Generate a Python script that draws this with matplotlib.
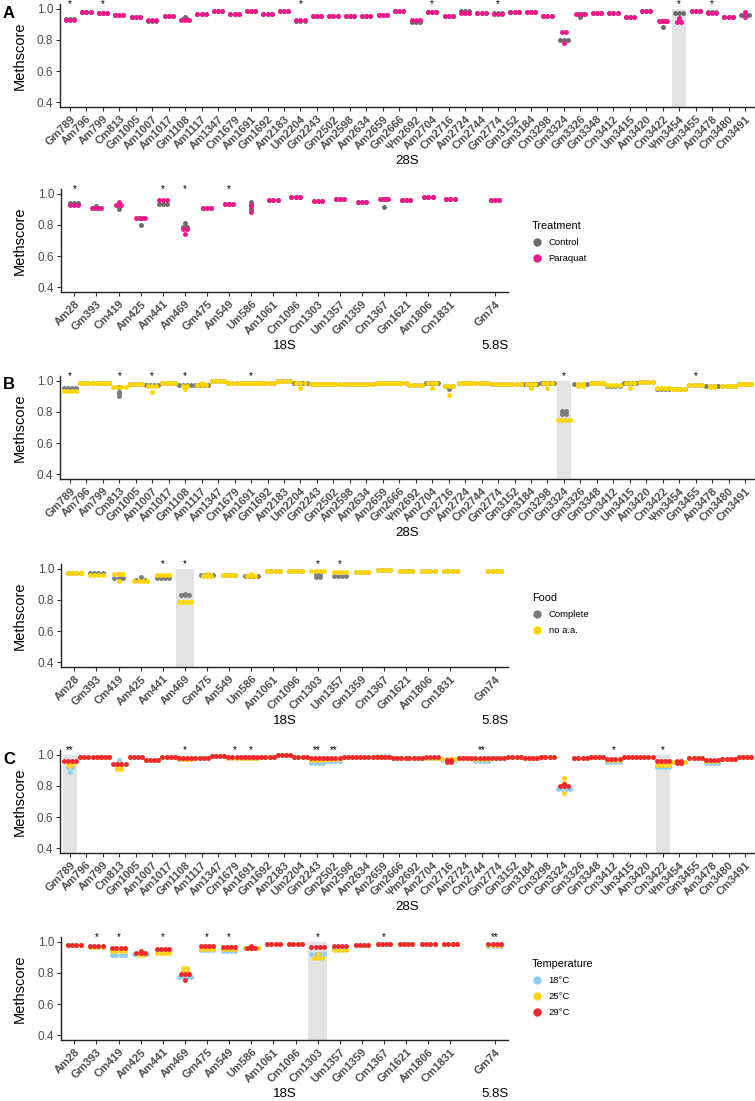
import numpy as np
import matplotlib
matplotlib.use("Agg")
import matplotlib.pyplot as plt
import matplotlib.transforms as mtransforms
from matplotlib.lines import Line2D

plt.rcParams['font.family'] = ['Liberation Sans', 'DejaVu Sans']

# ---- positions -------------------------------------------------------------
sites_28S = ["Gm789", "Am796", "Am799", "Cm813", "Gm1005", "Am1007", "Am1017", "Gm1108",
             "Am1117", "Am1347", "Cm1679", "Am1691", "Gm1692", "Am2183", "Um2204", "Gm2243",
             "Gm2502", "Am2598", "Am2634", "Am2659", "Gm2666", "Ψm2692", "Am2704", "Cm2716",
             "Am2724", "Cm2744", "Gm2774", "Gm3152", "Gm3184", "Cm3298", "Gm3324", "Gm3326",
             "Gm3348", "Cm3412", "Um3415", "Am3420", "Cm3422", "Ψm3454", "Gm3455", "Am3478",
             "Cm3480", "Cm3491"]
sites_18S = ["Am28", "Gm393", "Cm419", "Am425", "Am441", "Am469", "Gm475", "Am549", "Um586",
             "Am1061", "Cm1096", "Cm1303", "Um1357", "Gm1359", "Cm1367", "Gm1621", "Am1806",
             "Cm1831", "Gm74"]   # last one is the 5.8S site

# ---- values (a float = all replicates equal, a list = replicate values) ---
# A: paraquat
A28_control = [0.935, 0.98, 0.975, 0.96, 0.95, 0.92, 0.955, [0.945, 0.935, 0.935], 0.968, 0.99,
               0.968, 0.985, 0.968, 0.985, 0.92, 0.955, 0.955, 0.955, 0.955, 0.96, 0.99, 0.915,
               0.98, 0.955, 0.985, 0.975, 0.975, 0.98, 0.98, 0.955, [0.80, 0.80, 0.795],
               [0.97, 0.97, 0.95], 0.972, 0.972, 0.947, 0.985, [0.92, 0.92, 0.885], 0.972, 0.985,
               0.98, 0.947, 0.96]
A28_paraquat = [0.93, 0.98, 0.972, 0.96, 0.95, 0.93, 0.955, [0.93, 0.93, 0.925], 0.968, 0.99,
                0.968, 0.985, 0.968, 0.985, 0.93, 0.955, 0.955, 0.955, 0.955, 0.96, 0.99, 0.93,
                0.98, 0.955, 0.975, 0.975, 0.968, 0.98, 0.98, 0.955, [0.85, 0.85, 0.78], 0.97,
                0.972, 0.972, 0.947, 0.985, 0.92, [0.94, 0.915, 0.915], 0.985, 0.975, 0.947,
                [0.98, 0.96, 0.95]]
A18_control = [0.94, [0.925, 0.91, 0.91], [0.94, 0.92, 0.905], [0.845, 0.845, 0.80], 0.935,
               [0.81, 0.79, 0.785], 0.912, 0.935, [0.945, 0.93, 0.905], 0.964, 0.98, 0.954,
               0.97, 0.95, [0.97, 0.97, 0.915], 0.964, 0.98, 0.968, 0.962]
A18_paraquat = [0.928, 0.908, [0.945, 0.93, 0.925], 0.845, 0.958, [0.775, 0.775, 0.74], 0.912,
                0.935, [0.93, 0.92, 0.885], 0.964, 0.98, 0.954, 0.97, 0.95, 0.97, 0.964, 0.98,
                0.968, 0.962]
A_stars_28 = {"Gm789": "*", "Am799": "*", "Um2204": "*", "Am2704": "*", "Gm2774": "*",
              "Ψm3454": "*", "Am3478": "*"}
A_stars_18 = {"Am28": "*", "Am441": "*", "Am469": "*", "Am549": "*"}
A_shade_28 = ["Ψm3454"]
A_shade_18 = []

# B: food
B28_complete = [0.955, 0.99, 0.99, [0.96, 0.93, 0.92, 0.905], 0.98, 0.975, 0.987, 0.976, 0.976,
                1.0, 0.986, 0.988, 0.986, 1.0, 0.99, 0.98, 0.98, 0.98, 0.983, 0.987, 0.987, 0.976,
                0.988, [0.97, 0.97, 0.97, 0.945], 0.99, 0.987, 0.983, 0.983, 0.978, 0.987,
                [0.805, 0.805, 0.785, 0.785], 0.983, 0.99, 0.965, 0.987, 0.993, 0.95, 0.945,
                0.976, 0.965, 0.97, 0.983]
B28_noaa = [0.937, 0.99, 0.99, 0.96, 0.98, [0.97, 0.965, 0.965, 0.93], 0.985,
            [0.968, 0.968, 0.96, 0.945], [0.985, 0.975, 0.975, 0.975], 1.0, 0.986, 0.986, 0.986,
            1.0, [0.99, 0.99, 0.99, 0.955], 0.98, 0.98, 0.98, 0.983, 0.987, 0.987, 0.976,
            [0.985, 0.985, 0.985, 0.955], [0.97, 0.97, 0.97, 0.91], 0.99, 0.987, 0.983, 0.983,
            [0.978, 0.978, 0.978, 0.955], [0.987, 0.987, 0.987, 0.955], 0.75,
            [0.98, 0.98, 0.965, 0.965], 0.99, 0.976, [0.987, 0.987, 0.987, 0.955], 0.993,
            [0.96, 0.96, 0.955, 0.955], 0.945, 0.976, [0.968, 0.968, 0.962, 0.962], 0.97,
            [0.985, 0.985, 0.98, 0.98]]
B18_complete = [0.975, 0.972, [0.97, 0.94, 0.94, 0.94], [0.95, 0.93, 0.93, 0.93], 0.942,
                [0.84, 0.83, 0.83, 0.83], 0.96, 0.96, 0.957, 0.99, 0.99,
                [0.97, 0.97, 0.945, 0.945], 0.957, 0.978, 0.995, 0.99, 0.99, 0.985, 0.985]
B18_noaa = [0.975, 0.96, [0.968, 0.968, 0.968, 0.925], 0.925, 0.963, 0.79,
            [0.968, 0.957, 0.957, 0.957], 0.96, [0.968, 0.957, 0.957, 0.957], 0.99, 0.99, 0.99,
            0.978, 0.978, 0.995, 0.99, 0.99, 0.985, 0.985]
B_stars_28 = {"Gm789": "*", "Cm813": "*", "Am1007": "*", "Gm1108": "*", "Am1691": "*",
              "Gm3324": "*", "Gm3455": "*"}
B_stars_18 = {"Am441": "*", "Am469": "*", "Cm1303": "*", "Um1357": "*"}
B_shade_28 = ["Gm3324"]
B_shade_18 = ["Am469"]

# C: temperature
C28_18C = [[0.93, 0.92, 0.92, 0.89], 0.99, 0.99, [0.97, 0.955, 0.94, 0.94], 0.985, 0.97, 0.99,
           0.972, 0.98, 0.995, 0.978, 0.978, 0.985, 1.0, 0.99, 0.945, 0.96, 0.985, 0.987, 0.995,
           0.98, 0.98, 0.978, 0.97, 0.982, 0.96, 0.982, 0.985, 0.978, 0.985,
           [0.785, 0.785, 0.78, 0.78], 0.98, 0.99, 0.955, 0.985, 0.99, 0.925, 0.953, 0.978,
           0.95, 0.975, 0.99]
C28_25C = [[0.95, 0.94, 0.94, 0.93], 0.99, 0.99, [0.92, 0.92, 0.91, 0.91], 0.985, 0.97, 0.99,
           0.972, 0.98, 0.995, 0.978, 0.978, 0.985, 1.0, 0.99, 0.965, 0.972, 0.985, 0.987,
           0.987, 0.98, 0.98, 0.978, 0.975, 0.982, 0.972, 0.982, 0.985, 0.978, 0.985,
           [0.85, 0.82, 0.80, 0.755], 0.98, 0.99, 0.965, 0.985, 0.99, 0.935, 0.953, 0.978,
           0.96, 0.975, 0.99]
C28_29C = [0.96, 0.99, 0.99, 0.94, 0.985, 0.97, 0.99, 0.978, 0.98, 0.995, 0.985, 0.985, 0.985,
           1.0, 0.99, 0.98, 0.98, 0.985, 0.987, 0.987, 0.98, 0.98, 0.985,
           [0.965, 0.965, 0.955, 0.955], 0.982, 0.982, 0.982, 0.985, 0.98, 0.985,
           [0.81, 0.80, 0.80, 0.80], 0.98, 0.99, 0.975, 0.985, 0.99, 0.96,
           [0.958, 0.958, 0.948, 0.948], 0.978, 0.97, 0.975, 0.99]
C18_18C = [0.98, 0.97, 0.917, 0.925, 0.935, [0.775, 0.775, 0.77, 0.77], 0.947, 0.94, 0.958,
           0.99, 0.99, [0.925, 0.925, 0.92, 0.92], 0.96, 0.98, 0.99, 0.99, 0.99, 0.985, 0.975]
C18_25C = [0.98, 0.97, 0.943, [0.925, 0.92, 0.915, 0.915], 0.928, [0.83, 0.83, 0.815, 0.815],
           0.957, 0.953, 0.958, 0.99, 0.99, [0.925, 0.895, 0.895, 0.895], 0.947, 0.98, 0.99,
           0.99, 0.99, 0.985, 0.98]
C18_29C = [0.98, 0.975, 0.964, [0.94, 0.93, 0.93, 0.93], 0.957, [0.795, 0.795, 0.795, 0.757],
           0.975, 0.968, [0.975, 0.96, 0.96, 0.96], 0.99, 0.99, 0.968, 0.975, 0.98, 0.99, 0.99,
           0.99, 0.985, 0.988]
C_stars_28 = {"Gm789": "**", "Gm1108": "*", "Cm1679": "*", "Am1691": "*", "Gm2243": "**",
              "Gm2502": "**", "Cm2744": "**", "Cm3412": "*", "Cm3422": "*"}
C_stars_18 = {"Gm393": "*", "Cm419": "*", "Am441": "*", "Gm475": "*", "Am549": "*",
              "Cm1303": "*", "Cm1367": "*", "Gm74": "**"}
C_shade_28 = ["Gm789", "Cm3422"]
C_shade_18 = ["Cm1303"]

# ---- layout ----------------------------------------------------------------
W, H = 755, 1101
YMIN, YMAX = 0.368, 1.032
DOT = 3.0       # dot spacing in points
GREY_TXT = "#4d4d4d"

fig = plt.figure(figsize=(W / 100, H / 100), dpi=100)


def rect(left, right, top, bottom):
    return [left / W, 1 - bottom / H, (right - left) / W, (bottom - top) / H]


def dotplot(ax, xs, values, nrep, color):
    """Centered dot stacks: equal values side by side, like geom_dotplot."""
    by_offset = {}
    for x, v in zip(xs, values):
        reps = sorted(v if isinstance(v, list) else [v] * nrep, reverse=True)
        bins = []
        for r in reps:
            if bins and abs(bins[-1][0] - r) < 0.006:
                bins[-1].append(r)
            else:
                bins.append([r])
        for b in bins:
            c = len(b)
            for k in range(c):
                off = (k - (c - 1) / 2) * DOT
                by_offset.setdefault(off, []).append((x, np.mean(b)))
    for off, pts in by_offset.items():
        pts = np.array(pts)
        tr = ax.transData + mtransforms.ScaledTranslation(off / 72, 0, fig.dpi_scale_trans)
        ax.scatter(pts[:, 0], pts[:, 1], s=12.5, color=color, linewidths=0,
                   transform=tr, zorder=3, clip_on=False)


def panel(box, labels, xs, series, colors, nrep, stars, shaded, regions):
    ax = fig.add_axes(box)
    ax.set_xlim(xs[0] - 0.6, xs[-1] + 0.6)
    ax.set_ylim(YMIN, YMAX)
    for name in shaded:
        ax.bar(xs[labels.index(name)], 1.0 - YMIN, bottom=YMIN, width=0.85,
               color="#e3e3e3", zorder=0)
    for vals, col in zip(series, colors):
        dotplot(ax, xs, vals, nrep, col)
    for name, mark in stars.items():
        ax.text(xs[labels.index(name)], 1.012, mark, ha="center", va="baseline",
                fontsize=7, clip_on=False)
    ax.set_xticks(xs)
    ax.set_xticklabels(labels, rotation=45, ha="right", va="top", rotation_mode="anchor",
                       fontsize=8, fontweight="bold", color=GREY_TXT)
    ax.set_yticks([0.4, 0.6, 0.8, 1.0])
    ax.set_yticklabels(["0.4", "0.6", "0.8", "1.0"], fontsize=8.5, color=GREY_TXT)
    for s in ["top", "right"]:
        ax.spines[s].set_visible(False)
    for s in ["left", "bottom"]:
        ax.spines[s].set_linewidth(1.0)
        ax.spines[s].set_color("#222222")
    ax.tick_params(direction="out", length=3, width=0.8, color="#333333", pad=2)
    ax.set_ylabel("Methscore", fontsize=10.5)
    ax.yaxis.set_label_coords(27 / W, 0.5,
                              transform=mtransforms.blended_transform_factory(fig.transFigure, ax.transAxes))
    for text, xpos in regions:
        if xpos is None:
            ax.annotate(text, xy=(0.5, 0), xycoords="axes fraction", xytext=(0, -39),
                        textcoords="offset points", ha="center", va="center", fontsize=9.5)
        else:
            ax.annotate(text, xy=(xpos, 0), xycoords=("data", "axes fraction"), xytext=(0, -39),
                        textcoords="offset points", ha="center", va="center", fontsize=9.5)
    return ax


def legend(title, names, colors, top):
    handles = [Line2D([], [], marker="o", ls="", color=c, markersize=5) for c in colors]
    fig.legend(handles, names, title=title, loc="upper left", bbox_to_anchor=(527 / W, 1 - top / H),
               frameon=False, fontsize=6.8, title_fontsize=7.8, alignment="left",
               handletextpad=0.6, labelspacing=0.75, borderpad=0, handlelength=1.2)


x28 = list(range(len(sites_28S)))
x18 = list(range(len(sites_18S) - 1)) + [len(sites_18S)]

rows = [
    ("A", 4, 189, [A28_control, A28_paraquat], [A18_control, A18_paraquat],
     ["#6b6b6b", "#f0168c"], 3, A_stars_28, A_stars_18, A_shade_28, A_shade_18,
     "Treatment", ["Control", "Paraquat"], 216),
    ("B", 376, 564, [B28_complete, B28_noaa], [B18_complete, B18_noaa],
     ["#7a7d7d", "#ffd700"], 4, B_stars_28, B_stars_18, B_shade_28, B_shade_18,
     "Food", ["Complete", "no a.a."], 588),
    ("C", 750, 937, [C28_18C, C28_25C, C28_29C], [C18_18C, C18_25C, C18_29C],
     ["#8ecdf0", "#ffd21f", "#f0282d"], 4, C_stars_28, C_stars_18, C_shade_28, C_shade_18,
     "Temperature", ["18°C", "25°C", "29°C"], 954),
]

for (letter, top1, top2, s28, s18, cols, nrep, st28, st18, sh28, sh18,
     ltitle, lnames, ltop) in rows:
    panel(rect(60, 755, top1, top1 + 103), sites_28S, x28, s28, cols, nrep, st28, sh28,
          [("28S", None)])
    panel(rect(61, 508, top2, top2 + 103), sites_18S, x18, s18, cols, nrep, st18, sh18,
          [("18S", None), ("5.8S", x18[-1])])
    fig.text(3 / W, 1 - (top1 + 9) / H, letter, fontsize=12, fontweight="bold", va="center")
    legend(ltitle, lnames, cols, ltop)

fig.savefig("out.png", dpi=100)
